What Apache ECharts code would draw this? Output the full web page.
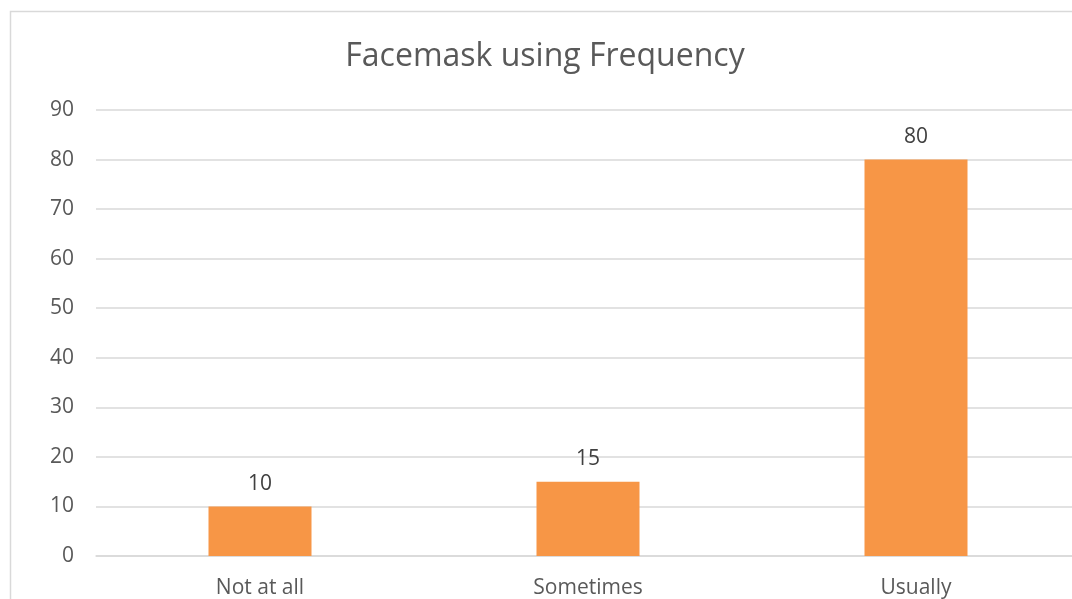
<!DOCTYPE html>
<html>
<head>
<meta charset="utf-8">
<script src="https://cdn.jsdelivr.net/npm/echarts@6/dist/echarts.min.js"></script>
<style>html,body{margin:0;padding:0;background:#fff;overflow:hidden;width:1072px;height:599px}#c{width:1100px;height:599px}</style>
</head>
<body>
<div id="c"></div>
<script>
const categories = ["Not at all", "Sometimes", "Usually"];
const values = [10, 15, 80];
const yTicks = { min: 0, max: 90, interval: 10 };
const titleText = "Facemask using Frequency";

const chart = echarts.init(document.getElementById('c'), null, { renderer: 'canvas' });
chart.setOption({
  animation: false,
  backgroundColor: '#ffffff',
  textStyle: { fontFamily: 'Open Sans' },
  title: {
    text: titleText,
    left: 540, textAlign: 'center',
    top: 36,
    textStyle: { fontFamily: 'Open Sans', fontSize: 32, fontWeight: 'normal', color: '#595959' }
  },
  graphic: [{
    type: 'rect', silent: true, z: -1,
    shape: { x: 10.5, y: 11.5, width: 1200, height: 800 },
    style: { fill: 'none', stroke: '#d9d9d9', lineWidth: 1.5 }
  }],
  grid: { left: 96, top: 110, width: 984, height: 448, containLabel: false },
  xAxis: {
    type: 'category',
    data: categories,
    axisLine: { show: true, lineStyle: { color: '#d9d9d9', width: 1.5 } },
    axisTick: { show: false },
    axisLabel: { color: '#595959', fontSize: 21, margin: 22, fontFamily: 'Open Sans' }
  },
  yAxis: {
    type: 'value',
    min: yTicks.min, max: yTicks.max, interval: yTicks.interval,
    axisLine: { show: false },
    axisTick: { show: false },
    splitLine: { lineStyle: { color: '#d9d9d9', width: 1.5 } },
    axisLabel: { color: '#595959', fontSize: 21, margin: 22, fontFamily: 'Open Sans' }
  },
  series: [{
    type: 'bar',
    data: values,
    barWidth: 103,
    itemStyle: { color: '#F79646' },
    label: { show: true, position: 'top', distance: 12, color: '#404040', fontSize: 21, fontFamily: 'Open Sans' }
  }]
});
</script>
</body>
</html>
